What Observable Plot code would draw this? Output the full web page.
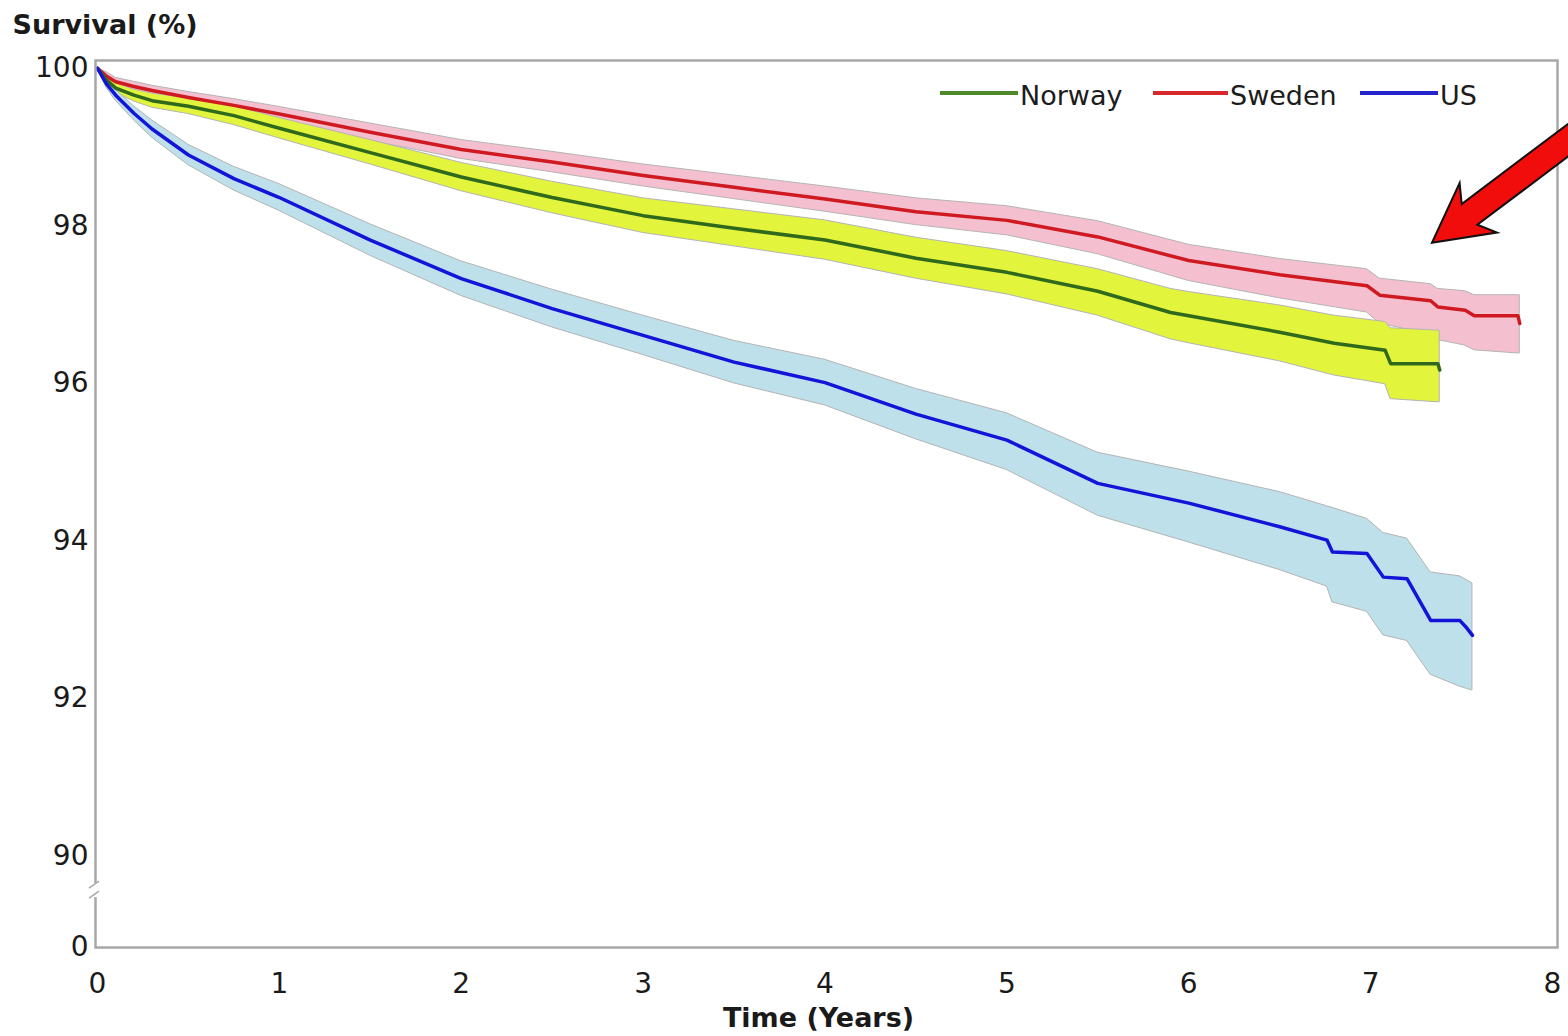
<!DOCTYPE html>
<html>
<head>
<meta charset="utf-8">
<script src="https://cdn.jsdelivr.net/npm/d3@7"></script>
<script src="https://cdn.jsdelivr.net/npm/@observablehq/plot@0.6"></script>
<style>
  html, body { margin: 0; padding: 0; background: #fff; }
  #chart { width: 1568px; height: 1036px; overflow: hidden; }
</style>
</head>
<body>
<div id="chart"></div>
<script>
// ---------------- data ----------------
const countries = ["Norway", "Sweden", "US"];

const swedenTime  = [0, 0.05, 0.1, 0.2, 0.3, 0.5, 0.75, 1, 1.5, 2, 2.5, 3, 3.5, 4, 4.5, 5, 5.5, 6, 6.5, 6.98, 7.05, 7.33, 7.37, 7.52, 7.57, 7.81, 7.82];
const swedenSurv  = [100, 99.90, 99.83, 99.77, 99.72, 99.63, 99.53, 99.42, 99.19, 98.97, 98.81, 98.64, 98.49, 98.34, 98.18, 98.07, 97.86, 97.56, 97.38, 97.24, 97.12, 97.05, 96.97, 96.93, 96.86, 96.86, 96.76];
const swedenLower = [100, 99.85, 99.77, 99.71, 99.66, 99.56, 99.45, 99.33, 99.08, 98.85, 98.68, 98.50, 98.34, 98.18, 98.01, 97.88, 97.64, 97.30, 97.08, 96.90, 96.76, 96.62, 96.55, 96.48, 96.42, 96.38, 96.38];
const swedenUpper = [100, 99.95, 99.88, 99.83, 99.78, 99.70, 99.61, 99.51, 99.30, 99.09, 98.94, 98.78, 98.64, 98.50, 98.35, 98.25, 98.06, 97.76, 97.58, 97.45, 97.33, 97.26, 97.20, 97.17, 97.12, 97.12, 97.12];

const norwayTime  = [0, 0.05, 0.1, 0.2, 0.3, 0.5, 0.75, 1, 1.5, 2, 2.5, 3, 3.5, 4, 4.5, 5, 5.5, 5.9, 6, 6.5, 6.8, 7.08, 7.11, 7.37, 7.38];
const norwaySurv  = [100, 99.85, 99.75, 99.66, 99.59, 99.52, 99.40, 99.24, 98.93, 98.62, 98.36, 98.13, 97.97, 97.82, 97.59, 97.41, 97.17, 96.90, 96.86, 96.65, 96.51, 96.42, 96.25, 96.25, 96.17];
const norwayLower = [100, 99.80, 99.69, 99.58, 99.50, 99.42, 99.28, 99.11, 98.78, 98.44, 98.16, 97.91, 97.74, 97.57, 97.33, 97.13, 96.86, 96.56, 96.51, 96.28, 96.10, 95.99, 95.80, 95.76, 95.76];
const norwayUpper = [100, 99.90, 99.81, 99.73, 99.68, 99.62, 99.52, 99.37, 99.09, 98.80, 98.56, 98.35, 98.21, 98.07, 97.85, 97.68, 97.45, 97.20, 97.16, 96.99, 96.86, 96.78, 96.70, 96.67, 96.67];

const usTime  = [0, 0.05, 0.1, 0.2, 0.3, 0.5, 0.75, 1, 1.5, 2, 2.5, 3, 3.5, 4, 4.5, 5, 5.5, 6, 6.5, 6.76, 6.79, 6.98, 7.07, 7.2, 7.33, 7.49, 7.53, 7.56];
const usSurv  = [100, 99.80, 99.66, 99.43, 99.23, 98.90, 98.60, 98.36, 97.82, 97.33, 96.95, 96.61, 96.27, 96.01, 95.61, 95.28, 94.73, 94.48, 94.18, 94.01, 93.86, 93.84, 93.54, 93.52, 92.99, 92.99, 92.89, 92.80];
const usLower = [100, 99.75, 99.59, 99.34, 99.12, 98.77, 98.45, 98.19, 97.62, 97.11, 96.71, 96.36, 96.00, 95.72, 95.29, 94.90, 94.32, 93.98, 93.63, 93.42, 93.22, 93.10, 92.80, 92.73, 92.30, 92.15, 92.12, 92.10];
const usUpper = [100, 99.85, 99.73, 99.52, 99.34, 99.03, 98.75, 98.53, 98.02, 97.55, 97.19, 96.86, 96.54, 96.30, 95.93, 95.62, 95.12, 94.88, 94.62, 94.44, 94.42, 94.28, 94.10, 94.03, 93.60, 93.55, 93.50, 93.46];

const xTicks = [0, 1, 2, 3, 4, 5, 6, 7, 8];
const yTicks = [90, 92, 94, 96, 98, 100];
const yBottomLabel = "0";          // label printed at the axis break floor
const yFloor = 88.837;             // value at the bottom of the broken axis
const yTop = 100.1;
const yBreakValue = 89.56;         // where the break symbol sits
const arrowTip = {t: 7.34, v: 97.78};

// ---------------- styles ----------------
const lineColor = {Norway: "#2f6a1c", Sweden: "#d01a22", US: "#1414d8"};
const legendColor = {Norway: "#4e8a2c", Sweden: "#d6282c", US: "#2424cc"};
const bandColor = {Norway: "#e3f43c", Sweden: "#f4c0d0", US: "#bde0ea"};
const FONT = "'DejaVu Sans', 'Liberation Sans', Arial, sans-serif";

function table(name, t, s, lo, hi) {
  return t.map((d, i) => ({country: name, t: d, s: s[i], lo: lo[i], hi: hi[i]}));
}
const sweden = table("Sweden", swedenTime, swedenSurv, swedenLower, swedenUpper);
const norway = table("Norway", norwayTime, norwaySurv, norwayLower, norwayUpper);
const us = table("US", usTime, usSurv, usLower, usUpper);

// ---------------- annotation renderers ----------------
function legendMark(index, scales, values, dims) {
  const g = d3.create("svg:g").attr("font-family", FONT).attr("text-anchor", "start");
  const items = [
    {name: "Norway", x1: 940, x2: 1018},
    {name: "Sweden", x1: 1153, x2: 1228},
    {name: "US", x1: 1360, x2: 1438}
  ];
  const yLine = 93;
  for (const it of items) {
    g.append("line").attr("x1", it.x1).attr("x2", it.x2).attr("y1", yLine).attr("y2", yLine)
      .attr("stroke", legendColor[it.name]).attr("stroke-width", 4);
    g.append("text").attr("x", it.x2 + 2).attr("y", yLine + 4)
      .attr("text-anchor", "start")
      .attr("dominant-baseline", "middle").attr("font-size", 27).attr("fill", "#1c1c1c")
      .text(it.name);
  }
  return g.node();
}

function arrowMark(index, scales) {
  const tx = scales.x(arrowTip.t), ty = scales.y(arrowTip.v);
  const ang = -37 * Math.PI / 180;
  const d = [Math.cos(ang), Math.sin(ang)];
  const p = [-d[1], d[0]];
  const pt = (a, b) => [tx + a * d[0] + b * p[0], ty + a * d[1] + b * p[1]];
  const pts = [pt(0, 0), pt(58, 31), pt(47, 13), pt(260, 13), pt(260, -13), pt(47, -13), pt(58, -31)];
  return d3.create("svg:path")
    .attr("d", "M" + pts.map(q => q.join(",")).join("L") + "Z")
    .attr("fill", "#f20d0d").attr("stroke", "#111").attr("stroke-width", 2)
    .attr("stroke-linejoin", "miter").node();
}

function breakMark(index, scales, values, dims) {
  const x0 = dims.marginLeft, y0 = scales.y(yBreakValue);
  const g = d3.create("svg:g");
  g.append("rect").attr("x", x0 - 4).attr("y", y0 - 7).attr("width", 8).attr("height", 14).attr("fill", "#fff");
  g.append("path").attr("d", `M${x0 - 6},${y0 - 2}L${x0 + 4},${y0 - 9}M${x0 - 6},${y0 + 8}L${x0 + 4},${y0 + 1}`)
    .attr("stroke", "#aaa").attr("stroke-width", 1.5).attr("fill", "none");
  return g.node();
}

// ---------------- chart ----------------
const bandStroke = "#b4b4b4";
const chart = Plot.plot({
  width: 1568,
  height: 1036,
  marginLeft: 95,
  marginRight: 11,
  marginTop: 60,
  marginBottom: 89,
  style: {fontFamily: FONT, fontSize: "28px", color: "#1a1a1a", background: "#fff", overflow: "visible"},
  x: {domain: [0, 8], range: [97, 1552], ticks: xTicks, tickSize: 0, tickPadding: 26, tickFormat: d => String(d), label: null},
  y: {domain: [yFloor, yTop], ticks: [yFloor, ...yTicks], tickSize: 0, tickPadding: 7,
      tickFormat: d => (d === yFloor ? yBottomLabel : String(d)), label: null},
  marks: [
    Plot.areaY(sweden, {x: "t", y1: "lo", y2: "hi", fill: bandColor.Sweden, stroke: bandStroke, strokeWidth: 1}),
    Plot.areaY(norway, {x: "t", y1: "lo", y2: "hi", fill: bandColor.Norway, stroke: bandStroke, strokeWidth: 1}),
    Plot.areaY(us, {x: "t", y1: "lo", y2: "hi", fill: bandColor.US, stroke: bandStroke, strokeWidth: 1}),
    Plot.line(sweden, {x: "t", y: "s", stroke: lineColor.Sweden, strokeWidth: 3.5}),
    Plot.line(norway, {x: "t", y: "s", stroke: lineColor.Norway, strokeWidth: 3.5}),
    Plot.line(us, {x: "t", y: "s", stroke: lineColor.US, strokeWidth: 3.5}),
    Plot.frame({stroke: "#a8a8a8", strokeWidth: 2.5}),
    breakMark,
    legendMark,
    arrowMark,
    Plot.text(["Survival (%)"], {frameAnchor: "top-left", dx: -83, dy: -35, textAnchor: "start",
      lineAnchor: "middle", fontSize: 27, fontWeight: "bold", fill: "#1a1a1a"}),
    Plot.text(["Time (Years)"], {frameAnchor: "bottom", dx: -8, dy: 71, lineAnchor: "middle",
      fontSize: 27, fontWeight: "bold", fill: "#1a1a1a"})
  ]
});
document.getElementById("chart").appendChild(chart);
</script>
</body>
</html>
